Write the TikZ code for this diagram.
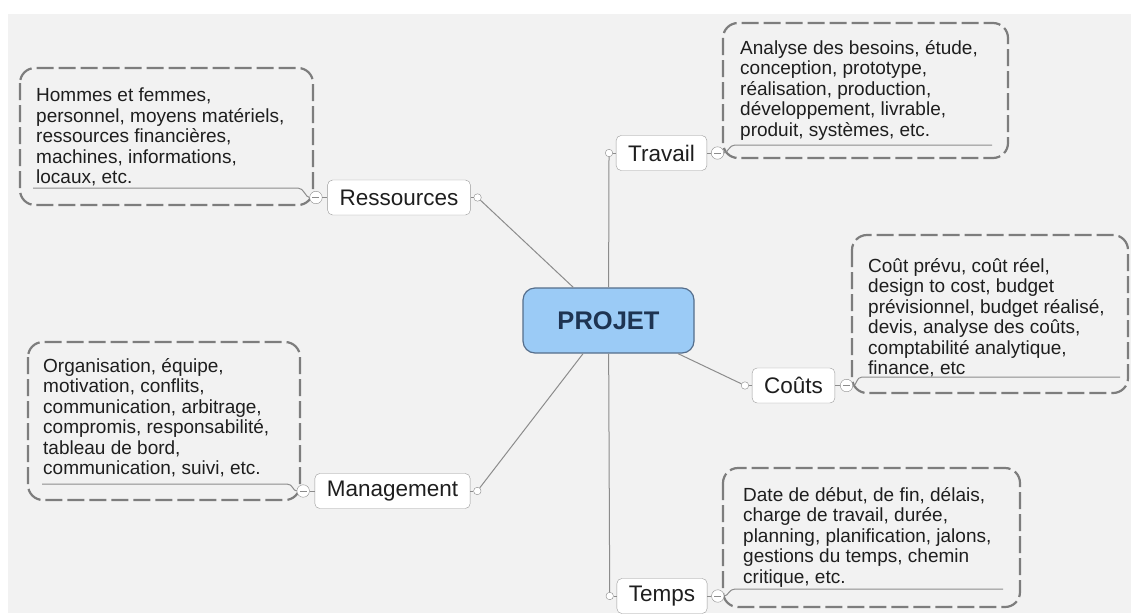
\documentclass[tikz,border=0pt]{standalone}
\usepackage{fontspec}
\setmainfont{Liberation Sans}
\usetikzlibrary{positioning}

\definecolor{bggray}{RGB}{242,242,242}
\definecolor{txt}{RGB}{30,30,30}
\definecolor{linegray}{RGB}{140,140,140}
\definecolor{nodegray}{RGB}{155,155,155}
\definecolor{dashgray}{RGB}{125,125,125}
\definecolor{rootblue}{RGB}{155,203,246}
\definecolor{rootline}{RGB}{85,110,140}
\definecolor{roottext}{RGB}{30,52,82}

\tikzset{
  root/.style={draw=rootline, fill=rootblue, line width=1.2pt, rounded corners=12pt,
    minimum width=171pt, minimum height=65pt,
    font=\bfseries\fontsize{25.5}{30}\selectfont, text=roottext},
  branch/.style={draw=nodegray, fill=white, rounded corners=5pt, minimum height=35pt,
    inner xsep=12pt, inner ysep=0pt, font=\fontsize{22.5}{27}\selectfont, text=txt},
  knob/.style={draw=linegray, fill=white, circle, inner sep=0pt, minimum size=7.5pt},
  fold/.style={draw=linegray, fill=white, circle, inner sep=0pt, minimum size=12.5pt,
    path picture={\draw[linegray, line width=1pt]
      ([xshift=-3.5pt]path picture bounding box.center) --
      ([xshift=3.5pt]path picture bounding box.center);}},
  link/.style={draw=linegray, line width=1pt},
  boundary/.style={draw=dashgray, line width=2.2pt, dash pattern=on 17pt off 5pt,
    rounded corners=15pt},
  note/.style={anchor=north west, inner sep=0pt, align=left,
    font=\fontsize{19}{20.5}\selectfont, text=txt}
}

\begin{document}
\begin{tikzpicture}[x=1pt, y=-1pt]
  \useasboundingbox (0,0) rectangle (1131,613);
  \fill[white] (0,0) rectangle (1131,613);
  \fill[bggray] (8,14) rectangle (1131,613);

  % dashed boundaries round the notes
  \draw[boundary] (20,68) rectangle (313,205);
  \draw[boundary] (723,23) rectangle (1008,158);
  \draw[boundary] (852,235) rectangle (1128,393);
  \draw[boundary] (28,342) rectangle (300,500);
  \draw[boundary] (723,468) rectangle (1020,607);

  \node[note] (ressources-note) at (36,88) {Hommes et femmes,\\personnel, moyens matériels,\\ressources financières,\\machines, informations,\\locaux, etc.};
  \node[note] (travail-note) at (740,40) {Analyse des besoins, étude,\\conception, prototype,\\réalisation, production,\\développement, livrable,\\produit, systèmes, etc.};
  \node[note] (couts-note) at (868,258) {Coût prévu, coût réel,\\design to cost, budget\\prévisionnel, budget réalisé,\\devis, analyse des coûts,\\comptabilité analytique,\\finance, etc};
  \node[note] (management-note) at (43,358) {Organisation, équipe,\\motivation, conflits,\\communication, arbitrage,\\compromis, responsabilité,\\tableau de bord,\\communication, suivi, etc.};
  \node[note] (temps-note) at (743,487) {Date de début, de fin, délais,\\charge de travail, durée,\\planning, planification, jalons,\\gestions du temps, chemin\\critique, etc.};

  % centre and branches
  \node[root] (projet) at (608.5,320.5) {PROJET};

  \node[branch] (ressources) at (399,197.5) {Ressources};
  \node[branch] (travail) at (661.5,153) {Travail};
  \node[branch] (couts) at (793.5,385.5) {Coûts};
  \node[branch] (management) at (392.5,491) {Management};
  \node[branch] (temps) at (662,596) {Temps};

  \node[knob, right=3pt of ressources] (ressources-k) {};
  \node[knob, left=3pt of travail] (travail-k) {};
  \node[knob, left=3pt of couts] (couts-k) {};
  \node[knob, right=3pt of management] (management-k) {};
  \node[knob, left=3pt of temps] (temps-k) {};

  \node[fold, left=5pt of ressources] (ressources-f) {};
  \node[fold, right=4pt of travail] (travail-f) {};
  \node[fold, right=5pt of couts] (couts-f) {};
  \node[fold, left=5pt of management] (management-f) {};
  \node[fold, right=4pt of temps] (temps-f) {};

  \foreach \b in {ressources, travail, couts, management, temps} {
    \draw[link] (projet) -- (\b-k);
    \draw[link] (\b-k) -- (\b);
    \draw[link] (\b-f) -- (\b);
  }

  % underlines of the notes
  \coordinate (ressources-u) at (298,188);
  \coordinate (travail-u) at (735,145);
  \coordinate (couts-u) at (862,377);
  \coordinate (management-u) at (287,484);
  \coordinate (temps-u) at (735,589);

  \draw[link] (33,188) -- (ressources-u) .. controls +(6,0) and +(-4,0) .. (ressources-f.west);
  \draw[link] (992,145) -- (travail-u) .. controls +(-6,0) and +(4,0) .. (travail-f.east);
  \draw[link] (1120,377) -- (couts-u) .. controls +(-6,0) and +(4,0) .. (couts-f.east);
  \draw[link] (42,484) -- (management-u) .. controls +(6,0) and +(-4,0) .. (management-f.west);
  \draw[link] (1003,589) -- (temps-u) .. controls +(-6,0) and +(4,0) .. (temps-f.east);
\end{tikzpicture}
\end{document}
